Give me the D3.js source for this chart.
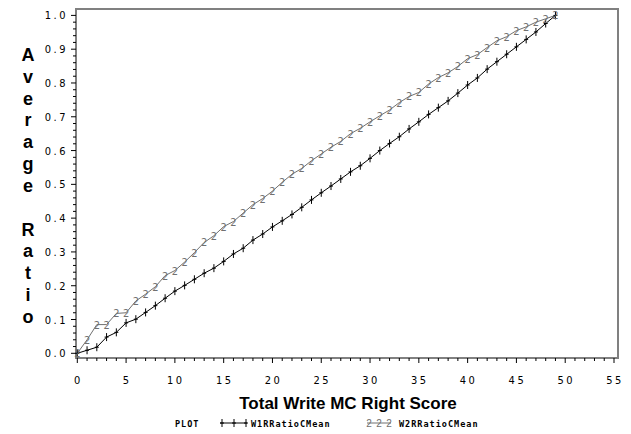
<!DOCTYPE html>
<html lang="en">
<head>
  <meta charset="UTF-8">
  <title>Average Ratio</title>
  <script src="https://cdn.jsdelivr.net/npm/d3@7"></script>
  <style>
    body { margin: 0; background: #fff; }
    .tick-label { font-family: 'Liberation Sans Narrow', 'DejaVu Sans Condensed', sans-serif; font-size: 11px; letter-spacing: 2.5px; fill: #000; }
    .axis-title { font-family: 'Liberation Sans', Arial, sans-serif; font-weight: bold; fill: #000; }
    .legend { font-family: 'DejaVu Sans Mono', monospace; font-size: 8.5px; font-weight: bold; fill: #000; letter-spacing: 1px; }
  </style>
</head>
<body>
<div id="app"></div>
<script>
  // x values (Total Write MC Right Score)
  const scores = d3.range(0, 50);
  const w1Values = [0, 0.009, 0.018, 0.048, 0.062, 0.09, 0.101, 0.121, 0.141, 0.163,
    0.184, 0.201, 0.219, 0.237, 0.252, 0.272, 0.294, 0.311, 0.335, 0.353,
    0.374, 0.392, 0.411, 0.432, 0.454, 0.475, 0.495, 0.516, 0.537, 0.555,
    0.577, 0.6, 0.621, 0.641, 0.664, 0.685, 0.707, 0.727, 0.747, 0.77,
    0.794, 0.815, 0.841, 0.863, 0.885, 0.907, 0.929, 0.951, 0.976, 1.0];
  const w2Values = [0, 0.04, 0.085, 0.085, 0.118, 0.12, 0.155, 0.175, 0.197, 0.23,
    0.245, 0.27, 0.298, 0.328, 0.348, 0.375, 0.39, 0.415, 0.44, 0.458,
    0.48, 0.506, 0.53, 0.547, 0.57, 0.59, 0.61, 0.627, 0.65, 0.666,
    0.685, 0.703, 0.72, 0.742, 0.76, 0.772, 0.797, 0.816, 0.83, 0.849,
    0.872, 0.884, 0.905, 0.925, 0.937, 0.955, 0.966, 0.98, 0.99, 1.0];
  const xTicks = d3.range(0, 56, 5);
  const yTicks = d3.range(0, 1.01, 0.1);
  const yTitle = 'Average Ratio';
  const xTitle = 'Total Write MC Right Score';

  const w = 631, h = 434;
  const xScale = d3.scaleLinear().domain([0, 55]).range([77.3, 614]);
  const yScale = d3.scaleLinear().domain([0, 1]).range([353.3, 15.4]);
  const frame = { left: 76, right: 618, top: 9, bottom: 358 };

  const svg = d3.select('#app').append('svg')
    .attr('width', w)
    .attr('height', h);

  // frame
  svg.append('rect')
    .attr('x', frame.left)
    .attr('y', frame.top)
    .attr('width', frame.right - frame.left)
    .attr('height', frame.bottom - frame.top)
    .attr('fill', 'none')
    .attr('stroke', '#808080')
    .attr('stroke-width', 2);

  // x axis ticks
  const xAxis = svg.append('g');
  xAxis.selectAll('line.minor')
    .data(d3.range(0, 56, 1))
    .enter().append('line')
    .attr('x1', d => xScale(d)).attr('x2', d => xScale(d))
    .attr('y1', frame.bottom).attr('y2', d => frame.bottom + (d % 5 === 0 ? 5 : 3))
    .attr('stroke', '#000').attr('stroke-width', 1);
  xAxis.selectAll('text')
    .data(xTicks)
    .enter().append('text')
    .attr('class', 'tick-label')
    .attr('x', d => xScale(d) + 1)
    .attr('y', 384)
    .attr('text-anchor', 'middle')
    .text(d => d);

  // y axis ticks
  const yAxis = svg.append('g');
  yAxis.selectAll('line')
    .data(d3.range(0, 51))
    .enter().append('line')
    .attr('x1', frame.left).attr('x2', d => frame.left - (d % 5 === 0 ? 5 : 3))
    .attr('y1', d => yScale(d / 50)).attr('y2', d => yScale(d / 50))
    .attr('stroke', '#000').attr('stroke-width', 1);
  yAxis.selectAll('text')
    .data(yTicks)
    .enter().append('text')
    .attr('class', 'tick-label')
    .attr('x', 68)
    .attr('y', d => yScale(d) + 4)
    .attr('text-anchor', 'end')
    .text(d => d3.format('.1f')(d));

  // titles
  svg.append('g').selectAll('text')
    .data(yTitle.split(''))
    .enter().append('text')
    .attr('class', 'axis-title')
    .attr('font-size', 18)
    .attr('x', 28)
    .attr('y', (d, i) => 61 + i * 21.83)
    .attr('text-anchor', 'middle')
    .text(d => d);

  svg.append('text')
    .attr('class', 'axis-title')
    .attr('font-size', 17)
    .attr('x', 348)
    .attr('y', 409)
    .attr('text-anchor', 'middle')
    .text(xTitle);

  // series
  const line = d3.line()
    .x((d, i) => xScale(scores[i]))
    .y(d => yScale(d));

  svg.append('path')
    .datum(w2Values)
    .attr('d', line)
    .attr('fill', 'none')
    .attr('stroke', '#707070')
    .attr('stroke-width', 1);

  svg.append('path')
    .datum(w1Values)
    .attr('d', line)
    .attr('fill', 'none')
    .attr('stroke', '#000')
    .attr('stroke-width', 1);

  function plusMarker(g, x, y) {
    g.append('line').attr('x1', x).attr('x2', x).attr('y1', y - 4).attr('y2', y + 4)
      .attr('stroke', '#000').attr('stroke-width', 1);
    g.append('line').attr('x1', x - 2).attr('x2', x + 2).attr('y1', y).attr('y2', y)
      .attr('stroke', '#000').attr('stroke-width', 1);
  }

  const m1 = svg.append('g');
  w1Values.forEach((v, i) => plusMarker(m1, xScale(scores[i]), yScale(v)));

  svg.append('g').selectAll('text')
    .data(w2Values)
    .enter().append('text')
    .attr('x', (d, i) => xScale(scores[i]))
    .attr('y', d => yScale(d) + 4)
    .attr('text-anchor', 'middle')
    .attr('font-family', "'Liberation Sans Narrow', 'DejaVu Sans Condensed', sans-serif")
    .attr('font-size', 11)
    .attr('fill', '#707070')
    .text('2');

  // legend
  const lg = svg.append('g');
  lg.append('text').attr('class', 'legend').attr('x', 175).attr('y', 427).text('PLOT');
  lg.append('line').attr('x1', 220).attr('x2', 247).attr('y1', 423).attr('y2', 423)
    .attr('stroke', '#000');
  [222, 234, 246].forEach(x => plusMarker(lg, x, 423));
  lg.append('text').attr('class', 'legend').attr('x', 251).attr('y', 427).text('W1RRatioCMean');
  lg.append('line').attr('x1', 367).attr('x2', 391).attr('y1', 423).attr('y2', 423)
    .attr('stroke', '#707070');
  [369, 379, 389].forEach(x => lg.append('text')
    .attr('x', x).attr('y', 427).attr('text-anchor', 'middle')
    .attr('font-family', "'Liberation Sans Narrow', sans-serif")
    .attr('font-size', 10).attr('fill', '#707070').text('2'));
  lg.append('text').attr('class', 'legend').attr('x', 399).attr('y', 427).text('W2RRatioCMean');
</script>
</body>
</html>
